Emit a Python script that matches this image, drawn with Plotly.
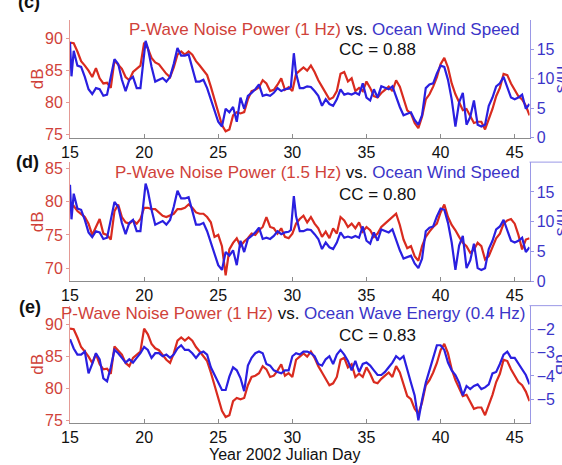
import plotly.graph_objects as go

# ---------------- data ----------------
day = [
    15.0, 15.25, 15.5, 15.75, 16.0, 16.25, 16.5, 16.75, 17.0, 17.25, 17.5, 17.75,
    18.0, 18.25, 18.5, 18.75, 19.0, 19.25, 19.5, 19.75, 20.0, 20.25, 20.5, 20.75,
    21.0, 21.25, 21.5, 21.75, 22.0, 22.25, 22.5, 22.75, 23.0, 23.25, 23.5, 23.75,
    24.0, 24.25, 24.5, 24.75, 25.0, 25.25, 25.5, 25.75, 26.0, 26.25, 26.5, 26.75,
    27.0, 27.25, 27.5, 27.75, 28.0, 28.25, 28.5, 28.75, 29.0, 29.25, 29.5, 29.75,
    30.0, 30.25, 30.5, 30.75, 31.0, 31.25, 31.5, 31.75, 32.0, 32.25, 32.5, 32.75,
    33.0, 33.25, 33.5, 33.75, 34.0, 34.25, 34.5, 34.75, 35.0, 35.25, 35.5, 35.75,
    36.0, 36.25, 36.5, 36.75, 37.0, 37.25, 37.5, 37.75, 38.0, 38.25, 38.5, 38.75,
    39.0, 39.25, 39.5, 39.75, 40.0, 40.25, 40.5, 40.75, 41.0, 41.25, 41.5, 41.75,
    42.0, 42.25, 42.5, 42.75, 43.0, 43.25, 43.5, 43.75, 44.0, 44.25, 44.5, 44.75,
    45.0, 45.25, 45.5, 45.75, 46.0,
]

# P-wave noise power, 1 Hz (dB) -- panels (c) and (e)
p_noise_1hz = [
    89.4, 89.3, 88.0, 86.5, 85.8, 85.0, 84.0, 85.4, 83.8, 83.0, 83.1, 82.3,
    86.6, 86.0, 85.3, 84.0, 83.5, 84.8, 85.3, 85.8, 89.4, 88.5, 87.0, 86.3,
    86.0, 85.3, 84.5, 84.0, 85.5, 87.5, 88.0, 87.5, 88.0, 87.5, 86.5, 85.8,
    85.0, 84.3, 82.5, 80.5, 78.5, 76.5, 75.5, 75.8, 78.0, 78.5, 78.3, 78.5,
    80.5, 81.8, 82.0, 82.4, 83.5, 83.0, 81.8, 82.0, 82.8, 83.8, 82.0, 82.4,
    81.8, 84.5, 85.0, 85.5, 85.0, 85.8, 84.8, 83.5, 82.5, 81.5, 80.5, 80.8,
    81.8, 84.5, 84.8, 83.3, 83.8, 81.8, 82.3, 81.8, 83.3, 82.3, 81.0, 80.8,
    81.5, 82.0, 82.5, 81.8, 83.5, 82.5, 80.5, 78.8, 78.3, 76.8, 76.0, 77.8,
    80.5, 81.3, 82.5, 84.0, 86.0, 87.0, 85.5, 83.0, 81.3, 80.0, 78.8, 79.0,
    77.8, 76.8, 77.0, 77.0, 75.8, 77.3, 79.0, 81.0, 82.3, 84.5, 84.3, 83.0,
    82.0, 81.0, 80.5, 79.5, 78.0,
]

# P-wave noise power, 1.5 Hz (dB) -- panel (d)
p_noise_15hz = [
    78.9, 79.4, 78.6, 78.2, 77.7, 76.7, 75.0, 76.2, 77.4, 75.2, 75.0, 74.3,
    78.6, 79.6, 77.7, 76.9, 76.7, 77.2, 76.7, 77.4, 79.1, 79.1, 78.9, 78.9,
    78.4, 77.9, 77.7, 77.9, 78.2, 78.9, 78.9, 79.1, 79.6, 79.1, 78.4, 78.2,
    78.2, 77.7, 76.9, 74.7, 75.0, 73.3, 68.9, 72.8, 73.8, 74.5, 73.3, 74.0,
    74.5, 75.2, 75.0, 75.7, 76.2, 77.7, 76.2, 76.0, 75.2, 76.0, 74.7, 74.5,
    75.2, 76.7, 77.4, 77.9, 76.9, 77.7, 76.7, 76.0, 74.7, 75.5, 74.5, 76.0,
    75.2, 77.7, 77.2, 76.2, 76.7, 76.0, 76.9, 75.5, 76.2, 75.7, 74.7, 75.2,
    76.2, 76.7, 77.2, 77.7, 78.2, 76.5, 74.3, 73.0, 73.3, 71.8, 71.1, 73.3,
    74.7, 75.5, 76.2, 76.7, 78.4, 79.6, 77.7, 76.5, 75.7, 74.7, 73.8, 73.3,
    72.3, 72.8, 73.8, 73.3, 71.3, 71.8, 73.3, 74.5, 75.2, 76.7, 77.2, 77.4,
    76.7, 75.0, 72.8, 74.3, 74.5,
]

# Ocean wind speed (m/s) -- panels (c) and (d)
wind_day = [
    15.0, 15.1, 15.25, 15.5, 15.75, 16.0, 16.25, 16.5, 16.75, 17.0, 17.25, 17.5, 17.75,
    18.0, 18.25, 18.5, 18.75, 19.0, 19.25, 19.5, 19.75, 20.0, 20.1, 20.25, 20.5, 20.75,
    21.0, 21.25, 21.5, 21.75, 22.0, 22.25, 22.5, 22.75, 23.0, 23.25, 23.5, 23.75,
    24.0, 24.25, 24.5, 24.75, 25.0, 25.25, 25.5, 25.75, 26.0, 26.25, 26.5, 26.75,
    27.0, 27.25, 27.5, 27.75, 28.0, 28.25, 28.5, 28.75, 29.0, 29.25, 29.5, 29.75, 29.9,
    30.1, 30.25, 30.5, 30.75, 31.0, 31.25, 31.5, 31.75, 32.0, 32.25, 32.5, 32.75,
    33.0, 33.25, 33.5, 33.75, 34.0, 34.25, 34.5, 34.75, 35.0, 35.25, 35.5, 35.75,
    36.0, 36.25, 36.5, 36.75, 37.0, 37.25, 37.5, 37.75, 38.0, 38.25, 38.5, 38.75,
    39.0, 39.25, 39.5, 39.75, 40.0, 40.25, 40.5, 40.75, 41.0, 41.25, 41.5, 41.75,
    42.0, 42.25, 42.5, 42.75, 43.0, 43.25, 43.5, 43.75, 44.0, 44.25, 44.5, 44.75,
    45.0, 45.25, 45.5, 45.75, 46.0,
]
wind_speed = [
    16.2, 10.4, 14.7, 12.2, 12.0, 10.3, 8.2, 7.4, 8.4, 8.2, 7.1, 7.3, 10.3,
    13.3, 12.5, 9.8, 7.9, 9.8, 10.3, 8.4, 8.4, 14.7, 16.4, 15.2, 12.0, 9.5,
    9.8, 10.1, 9.5, 10.3, 12.5, 15.2, 13.9, 13.9, 14.1, 12.0, 9.5, 9.5,
    9.8, 8.4, 6.5, 4.3, 2.7, 1.9, 4.9, 4.3, 5.2, 2.7, 6.8, 4.9,
    7.1, 7.6, 8.2, 9.0, 7.1, 7.3, 7.1, 7.6, 8.4, 7.9, 8.2, 8.3, 8.6,
    14.3, 10.9, 8.4, 8.4, 8.7, 8.6, 7.9, 7.1, 5.4, 6.5, 5.7, 5.4,
    6.5, 8.2, 7.3, 7.5, 7.3, 7.6, 7.3, 9.2, 6.8, 6.3, 8.2, 6.8,
    8.7, 8.4, 8.2, 8.7, 6.8, 5.2, 3.8, 4.1, 4.3, 3.0, 2.2, 3.8,
    8.4, 9.0, 9.2, 10.9, 12.2, 12.0, 9.8, 6.5, 1.9, 6.0, 7.6, 2.2,
    3.5, 6.3, 2.2, 1.9, 2.2, 5.4, 6.8, 8.7, 9.2, 10.3, 8.7, 6.8,
    6.5, 6.8, 7.3, 4.9, 5.7,
]

# Ocean wave energy, 0.4 Hz (dB) -- panel (e)
wave_energy = [
    -2.43, -2.83, -3.09, -3.09, -2.96, -3.89, -3.49, -3.03, -3.29, -4.10, -4.23, -3.63,
    -2.89, -3.03, -3.23, -3.43, -3.29, -3.43, -3.23, -3.03, -2.76, -2.89, -3.23, -3.03,
    -3.03, -3.16, -3.09, -3.23, -3.09, -2.83, -2.69, -2.89, -2.89, -3.03, -3.23, -3.03,
    -2.96, -3.09, -3.63, -3.96, -4.23, -4.60, -4.60, -4.03, -3.63, -3.76, -4.09, -4.65,
    -3.56, -3.23, -3.03, -2.96, -3.03, -3.49, -3.56, -3.76, -3.83, -3.89, -3.76, -3.76,
    -3.16, -3.03, -3.09, -2.96, -2.96, -3.03, -3.16, -3.49, -3.56, -3.29, -3.16, -3.49,
    -3.09, -2.89, -3.09, -3.36, -3.76, -3.36, -3.83, -3.49, -3.43, -3.56, -3.76, -3.96,
    -3.96, -3.83, -3.63, -3.43, -3.16, -3.29, -3.16, -3.76, -4.29, -4.83, -5.89, -5.03,
    -4.29, -3.76, -3.23, -2.69, -2.69, -2.89, -3.43, -3.76, -3.96, -4.29, -4.83, -4.43,
    -4.56, -4.43, -4.36, -4.56, -4.49, -4.36, -3.89, -3.83, -3.49, -3.09, -2.96, -3.23,
    -3.23, -3.49, -3.76, -3.96, -4.36,
]

x_ticks = [15, 20, 25, 30, 35, 40, 45]
db_ticks_1hz = [75, 80, 85, 90]
db_ticks_15hz = [70, 75, 80, 85]
wind_ticks = [0, 5, 10, 15]
wave_ticks = [-5, -4, -3, -2]
tick_text_wave = ["\u22125", "\u22124", "\u22123", "\u22122"]

# ---------------- style ----------------
W, H = 562, 465
FONT = "Liberation Sans, Arial, Helvetica, sans-serif"
RED_LINE = "#d92b1f"
BLUE_LINE = "#2a1fe0"
RED_TXT = "#d0423a"
BLUE_TXT = "#3b35c8"
RED_AX = "#e49a95"
BLUE_AX = "#9a98e6"
GRAY_AX = "#8c8c8c"


def px(x):
    return x / W


def py(y):
    return 1 - y / H


XL, XR = 62, 529
panels = [(18, 139), (164, 286), (311, 431)]

fig = go.Figure()

# panel (c)
fig.add_trace(go.Scatter(x=day, y=p_noise_1hz, xaxis="x", yaxis="y",
                         mode="lines", line=dict(color=RED_LINE, width=2.2)))
fig.add_trace(go.Scatter(x=wind_day, y=wind_speed, xaxis="x", yaxis="y2",
                         mode="lines", line=dict(color=BLUE_LINE, width=2.2)))
# panel (d)
fig.add_trace(go.Scatter(x=day, y=p_noise_15hz, xaxis="x2", yaxis="y3",
                         mode="lines", line=dict(color=RED_LINE, width=2.2)))
fig.add_trace(go.Scatter(x=wind_day, y=wind_speed, xaxis="x2", yaxis="y4",
                         mode="lines", line=dict(color=BLUE_LINE, width=2.2)))
# panel (e)
fig.add_trace(go.Scatter(x=day, y=p_noise_1hz, xaxis="x3", yaxis="y5",
                         mode="lines", line=dict(color=RED_LINE, width=2.2)))
fig.add_trace(go.Scatter(x=day, y=wave_energy, xaxis="x3", yaxis="y6",
                         mode="lines", line=dict(color=BLUE_LINE, width=2.2)))

xdom = [px(XL), px(XR)]
common_x = dict(domain=xdom, range=[15, 46], tickvals=x_ticks, showgrid=False,
                zeroline=False, showline=True, linecolor=GRAY_AX, linewidth=1,
                ticks="inside", ticklen=4, tickcolor=GRAY_AX,
                tickfont=dict(size=16, color="#111111", family=FONT))

layout = dict(width=W, height=H, margin=dict(l=0, r=0, t=0, b=0),
              paper_bgcolor="white", plot_bgcolor="white", showlegend=False,
              font=dict(family=FONT), hovermode=False)

yranges_left = [[74.5, 93.0], [68.0, 86.0], [74.6, 93.0]]
yticks_left = [db_ticks_1hz, db_ticks_15hz, db_ticks_1hz]
yranges_right = [[0, 20], [0, 20], [-6.0, -1.0]]
yticks_right = [wind_ticks, wind_ticks, wave_ticks]

for i, (top, bot) in enumerate(panels):
    dom = [py(bot), py(top)]
    xa = "xaxis" if i == 0 else f"xaxis{i + 1}"
    xref = "x" if i == 0 else f"x{i + 1}"
    yl = 2 * i + 1
    yr = 2 * i + 2
    yl_name = "yaxis" if yl == 1 else f"yaxis{yl}"
    yl_ref = "y" if yl == 1 else f"y{yl}"
    layout[xa] = dict(common_x, anchor=yl_ref)
    layout[yl_name] = dict(domain=dom, anchor=xref, range=yranges_left[i],
                           tickvals=yticks_left[i], showgrid=False, zeroline=False,
                           showline=True, linecolor=RED_AX, linewidth=1,
                           ticks="outside", ticklen=3, tickcolor=RED_AX,
                           tickfont=dict(size=16, color=RED_TXT, family=FONT))
    right = dict(overlaying=yl_ref, side="right", anchor=xref,
                 range=yranges_right[i], tickvals=yticks_right[i],
                 showgrid=False, zeroline=False, showline=True,
                 linecolor=BLUE_AX, linewidth=1, ticks="outside", ticklen=3,
                 tickcolor=BLUE_AX,
                 tickfont=dict(size=16, color=BLUE_TXT, family=FONT))
    if i == 2:
        right["ticktext"] = tick_text_wave
    layout[f"yaxis{yr}"] = right

fig.update_layout(**layout)

# stray top edge of the right-hand axes box
shapes = []
for top, bot in panels[1:]:
    shapes.append(dict(type="line", xref="paper", yref="paper",
                       x0=px(XR), x1=1.0, y0=py(top), y1=py(top),
                       line=dict(color=BLUE_AX, width=1)))
fig.update_layout(shapes=shapes)

ann = []


def text(x, y, s, size=17, color="black", xanchor="center", yanchor="middle",
         angle=0):
    ann.append(dict(x=px(x), y=py(y), xref="paper", yref="paper", text=s,
                    showarrow=False, xanchor=xanchor, yanchor=yanchor,
                    textangle=angle,
                    font=dict(size=size, color=color, family=FONT)))


titles = [
    ("P-Wave Noise Power (1 Hz)", "Ocean Wind Speed", 521, 28),
    ("P-Wave Noise Power (1.5 Hz)", "Ocean Wind Speed", 521, 175),
    ("P-Wave Noise Power (1 Hz)", "Ocean Wave Energy (0.4 Hz)", 527, 319),
]
for red_part, blue_part, xr, yc in titles:
    s = (f"<span style='color:{RED_TXT}'>{red_part}</span> vs. "
         f"<span style='color:{BLUE_TXT}'>{blue_part}</span>")
    text(xr, yc, s, size=17, color="#111111", xanchor="right")

for cc, yc in [("CC = 0.88", 49), ("CC = 0.80", 197), ("CC = 0.83", 342)]:
    text(374, yc, cc, size=17, color="#111111")

for lab, xc, yc in [("(c)", 20, 0), ("(d)", 19, 164), ("(e)", 21, 312)]:
    text(xc, yc, f"<b>{lab}</b>", size=18, color="#111111")

for (top, bot), rlab in zip(panels, ["m/s", "m/s", "dB"]):
    text(29, (top + bot) / 2, "dB", size=17, color=RED_TXT, angle=-90)
    text(562, (top + bot) / 2, rlab, size=17, color=BLUE_TXT, angle=90)

text(280, 463, "Year 2002 Julian Day", size=16, color="#111111")

fig.update_layout(annotations=ann)
fig.write_html("out.html",
               config={"displayModeBar": False, "staticPlot": True},
               post_script="document.body.style.margin='0';"
                           "document.body.style.overflow='hidden';")
